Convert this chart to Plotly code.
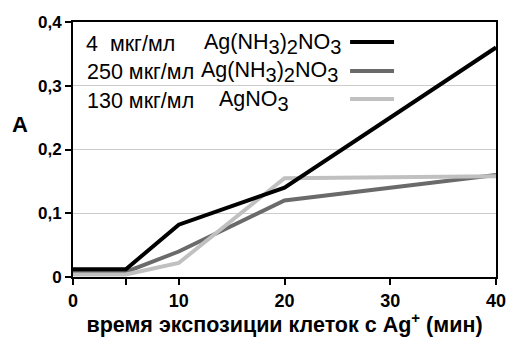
import plotly.graph_objects as go

time_min = [0, 5, 10, 20, 40]
s_4_amm = [0.012, 0.012, 0.082, 0.14, 0.36]
s_250_amm = [0.008, 0.008, 0.040, 0.120, 0.160]
s_130_no3 = [0.004, 0.004, 0.022, 0.155, 0.158]

SUB = '<sub><span style="font-size:20px">{}</span></sub>'
AMM = "Ag(NH" + SUB.format("3") + ")" + SUB.format("2") + "NO" + SUB.format("3")
NIT = "AgNO" + SUB.format("3")
series_conc = ["4\u00a0\u00a0мкг/мл", "250 мкг/мл", "130 мкг/мл"]
series_salt = [AMM, AMM, NIT]
series_colors = ["#000000", "#6a6a6a", "#c0c0c0"]
series_data = [s_4_amm, s_250_amm, s_130_no3]

x_tickvals = [0, 5, 10, 20, 30, 40]
x_ticktext = ["0", "", "10", "20", "30", "40"]
y_tickvals = [0, 0.1, 0.2, 0.3, 0.4]
y_ticktext = ["0", "0,1", "0,2", "0,3", "0,4"]

fig = go.Figure()
# draw in order so black is on top
for idx in [1, 2, 0]:
    fig.add_trace(go.Scatter(x=time_min, y=series_data[idx], mode="lines",
                             line=dict(color=series_colors[idx], width=4),
                             showlegend=False,
                             name=series_conc[idx]))

font = "Liberation Sans, Arial, sans-serif"
legend_y = [0.914, 0.804, 0.69]
conc_x = [0.028, 0.031, 0.031]
salt_x = [0.307, 0.300, 0.343]
line_y = [0.922, 0.808, 0.698]
for conc, salt, col, ly, cx, sx, lny in zip(series_conc, series_salt, series_colors,
                                             legend_y, conc_x, salt_x, line_y):
    fig.add_annotation(xref="paper", yref="paper", x=cx, y=ly, xanchor="left",
                       yanchor="middle", text=conc, showarrow=False, align="left",
                       borderpad=0,
                       font=dict(family=font, size=21.5, color="#000"))
    fig.add_annotation(xref="paper", yref="paper", x=sx, y=ly, xanchor="left",
                       yanchor="middle", text=salt, showarrow=False, align="left",
                       borderpad=0,
                       font=dict(family=font, size=21.5, color="#000"))
    fig.add_shape(type="line", xref="paper", yref="paper", x0=0.655, x1=0.759,
                  y0=lny, y1=lny, line=dict(color=col, width=4))

fig.add_annotation(xref="paper", yref="paper", x=-0.125, y=0.60, xanchor="center",
                   yanchor="middle", text="<b>A</b>", showarrow=False,
                   font=dict(family=font, size=22, color="#000"))

fig.update_layout(
    width=509, height=337,
    margin=dict(l=73, r=13, t=22, b=60, autoexpand=False),
    paper_bgcolor="white", plot_bgcolor="white",
    font=dict(family=font, color="#000"),
    xaxis=dict(range=[0, 40], tickvals=x_tickvals, ticktext=x_ticktext,
               automargin=False,
               ticks="outside", ticklen=6, tickwidth=2, tickcolor="#000",
               showline=True, linecolor="#000", linewidth=2, mirror=True,
               showgrid=False, zeroline=False,
               tickfont=dict(family=font, size=18, color="#000", weight="bold"),
               title=dict(text="<b>время экспозиции клеток с Ag<sup>+</sup> (мин)</b>",
                          font=dict(family=font, size=21.5, color="#000"), standoff=5)),
    yaxis=dict(range=[0, 0.4], tickvals=y_tickvals, ticktext=y_ticktext,
               automargin=False,
               ticks="outside", ticklen=6, tickwidth=2, tickcolor="#000",
               showline=True, linecolor="#000", linewidth=2, mirror=True,
               showgrid=True, gridcolor="#cccccc", gridwidth=1, zeroline=False,
               tickfont=dict(family=font, size=17, color="#000", weight="bold")),
)

fig.write_html("out.html")
